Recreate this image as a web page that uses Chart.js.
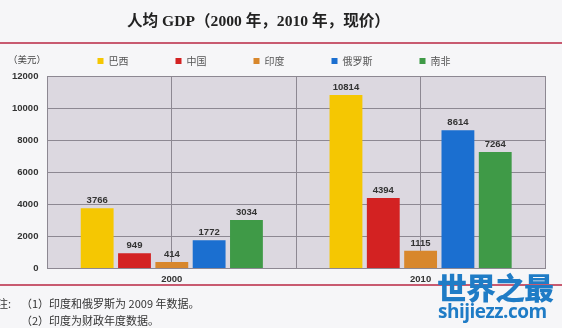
<!DOCTYPE html>
<html>
<head>
<meta charset="utf-8">
<script src="https://cdn.jsdelivr.net/npm/chart.js@4.4.0/dist/chart.umd.min.js"></script>
<style>
  body { margin: 0; background: #f6f6f8; }
  #wrap { position: relative; width: 562px; height: 328px; overflow: hidden; font-family: "Noto Sans CJK SC", sans-serif; }
  #chart { position: absolute; left: 0; top: 0; }
  .txt { position: absolute; white-space: nowrap; color: #333; }
  .rule { position: absolute; left: 0; width: 562px; height: 2px; background: #c85a70; }
  #title { left: 127px; top: 8px; font: bold 15.6px "Liberation Serif", "Noto Sans CJK SC", serif; color: #222; }
  #unit { left: 8px; top: 52px; font-size: 9.5px; color: #444; }
  .note { font-size: 11px; color: #333; }
  #wm1 { left: 437px; top: 264px; font: 900 30px "Noto Sans CJK SC", sans-serif; color: #1f7cc6; letter-spacing: -1px; }
  #wm2 { left: 438px; top: 298px; font: bold 19px "Open Sans", sans-serif; color: #1f7cc6; letter-spacing: -0.5px; }
</style>
</head>
<body>
<div id="wrap">
  <canvas id="chart" width="562" height="328"></canvas>
  <div class="txt" id="title">人均 GDP（2000 年，2010 年，现价）</div>
  <div class="rule" style="top:42px"></div>
  <div class="txt" id="unit">（美元）</div>
  <div class="rule" style="top:284px"></div>
  <div class="txt note" style="left:-3px;top:295px">注:</div>
  <div class="txt note" style="left:21px;top:295px">（1）印度和俄罗斯为 2009 年数据。</div>
  <div class="txt note" style="left:21px;top:312px">（2）印度为财政年度数据。</div>
  <div class="txt" id="wm1">世界之最</div>
  <div class="txt" id="wm2">shijiezz.com</div>
</div>
<script>
// years on the x axis
const years = ['2000', '2010'];

// per-capita GDP, US dollars
const brazil = [3766, 10814];
const china = [949, 4394];
const india = [414, 1115];
const russia = [1772, 8614];
const southAfrica = [3034, 7264];

const countries = ['巴西', '中国', '印度', '俄罗斯', '南非'];
const colors = ['#f5c702', '#d32222', '#d8872c', '#1b6fd0', '#3f9a47'];
const yTicks = [0, 2000, 4000, 6000, 8000, 10000, 12000];

// grey-lilac plot background
const plotBackground = {
  id: 'plotBackground',
  beforeDraw(chart) {
    const { ctx, chartArea: a } = chart;
    ctx.save();
    ctx.fillStyle = '#dcd8e0';
    ctx.fillRect(a.left, a.top, a.right - a.left, a.bottom - a.top);
    ctx.restore();
  }
};

// value printed above each bar
const valueLabels = {
  id: 'valueLabels',
  afterDatasetsDraw(chart) {
    const ctx = chart.ctx;
    ctx.save();
    ctx.font = 'bold 9.5px "Liberation Sans", Arial, sans-serif';
    ctx.fillStyle = '#333';
    ctx.textAlign = 'center';
    ctx.textBaseline = 'bottom';
    chart.data.datasets.forEach((ds, i) => {
      chart.getDatasetMeta(i).data.forEach((bar, j) => {
        ctx.fillText(String(ds.data[j]), bar.x, bar.y - 3);
      });
    });
    ctx.restore();
  }
};

const seriesData = [brazil, china, india, russia, southAfrica];

new Chart(document.getElementById('chart'), {
  type: 'bar',
  data: {
    labels: years,
    datasets: countries.map((name, i) => ({
      label: name,
      data: seriesData[i],
      backgroundColor: colors[i],
      borderWidth: 0,
      categoryPercentage: 0.75,
      barPercentage: 0.88
    }))
  },
  options: {
    responsive: false,
    animation: false,
    layout: { padding: { top: 9, left: 3, right: 17, bottom: 38 } },
    plugins: {
      legend: {
        position: 'top',
        labels: {
          boxWidth: 6,
          boxHeight: 6,
          padding: 47,
          color: '#555',
          font: { size: 10, family: '"Noto Sans CJK SC", sans-serif' }
        }
      },
      tooltip: { enabled: false }
    },
    scales: {
      x: {
        offset: true,
        grid: { offset: false, color: '#8d8892', drawTicks: false },
        border: { display: false },
        ticks: {
          padding: 5,
          color: '#333',
          font: { size: 9.5, weight: 'bold', family: '"Liberation Sans", Arial, sans-serif' }
        }
      },
      xb: {
        type: 'category',
        labels: years,
        position: 'bottom',
        offset: true,
        grid: { offset: true, color: '#8d8892', drawTicks: false },
        border: { display: false },
        ticks: { display: false }
      },
      y: {
        min: 0,
        max: 12000,
        afterBuildTicks(scale) {
          scale.ticks = yTicks.map(v => ({ value: v }));
        },
        grid: { color: '#8d8892', drawTicks: false },
        border: { color: '#8d8892' },
        ticks: {
          padding: 9,
          color: '#333',
          font: { size: 9.5, weight: 'bold', family: '"Liberation Sans", Arial, sans-serif' },
          callback: v => String(v)
        }
      }
    }
  },
  plugins: [plotBackground, valueLabels]
});
</script>
</body>
</html>
